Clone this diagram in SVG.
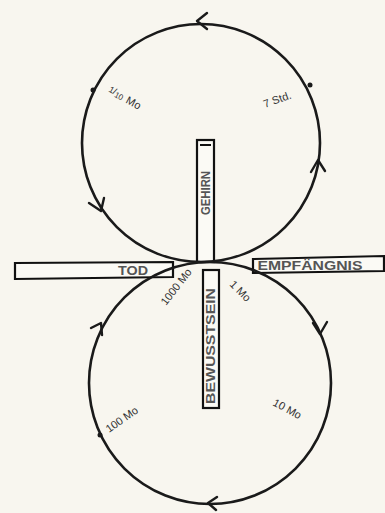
<svg xmlns="http://www.w3.org/2000/svg" width="385" height="513" viewBox="0 0 385 513">
<defs>
<style>
.c{fill:none;stroke:#1a1a1a;stroke-width:2.6}
.a{fill:none;stroke:#1a1a1a;stroke-width:2.4;stroke-linecap:round;stroke-linejoin:round}
.bar{fill:#fbfaf5;stroke:#111;stroke-width:2.2}
.bt{font-family:"Liberation Sans",Arial,sans-serif;font-size:12px;fill:#555;font-weight:bold}
.l{font-family:"Liberation Sans",Arial,sans-serif;font-size:11px;fill:#333}
.d{fill:#1a1a1a}
</style>
</defs>
<rect width="385" height="513" fill="#f8f6ef"/>
<g id="gehirn">
<rect class="bar" x="197" y="140" width="17" height="122"/>
<line x1="200" y1="145" x2="211" y2="145" stroke="#111" stroke-width="2"/>
<text class="bt" transform="translate(210,193) rotate(-90)" text-anchor="middle" textLength="44" lengthAdjust="spacingAndGlyphs">GEHIRN</text>
</g>
<g id="bewusstsein">
<rect class="bar" x="203" y="270" width="16" height="138"/>
<text class="bt" transform="translate(215,346) rotate(-90)" text-anchor="middle" textLength="116" lengthAdjust="spacingAndGlyphs">BEWUSSTSEIN</text>
</g>
<g id="tod">
<polygon class="bar" points="15,263 173,262 173,277 15,279"/>
<text class="bt" x="133" y="275" text-anchor="middle" textLength="30" lengthAdjust="spacingAndGlyphs">TOD</text>
</g>
<g id="empfaengnis">
<polygon class="bar" points="253,259 384,256 384,271 253,273"/>
<text class="bt" x="310" y="270" text-anchor="middle" textLength="105" lengthAdjust="spacingAndGlyphs">EMPFÄNGNIS</text>
</g>
<g id="connectors">
<circle class="c" cx="201" cy="143" r="119"/>
<circle class="c" cx="210" cy="383" r="121"/>
<path class="a" d="M207 13 L197 21 L207 29"/>
<path class="a" d="M89 203 L101 211 L104 198"/>
<path class="a" d="M311 172 L318 160 L325 171"/>
<path class="a" d="M91 328 L101 323 L102 335"/>
<path class="a" d="M313 323 L320 334 L327 322"/>
<path class="a" d="M217 497 L208 503 L216 510"/>
<circle class="d" cx="93" cy="90" r="2.5"/>
<circle class="d" cx="310" cy="85" r="2.5"/>
<circle class="d" cx="100" cy="435" r="2.5"/>
</g>
<g id="labels">
<text class="l" font-size="12" transform="translate(107,93) rotate(28)"><tspan font-size="9" dy="-2">1</tspan><tspan font-size="9" dy="0">/</tspan><tspan font-size="8" dy="2">10</tspan><tspan dx="4">Mo</tspan></text>
<text class="l" font-size="12" transform="translate(265,108) rotate(-20)">7 Std.</text>
<text class="l" transform="translate(166,306) rotate(-52)">1000 Mo</text>
<text class="l" transform="translate(229,285) rotate(45)">1 Mo</text>
<text class="l" font-size="12" transform="translate(109,433) rotate(-35)">100 Mo</text>
<text class="l" font-size="12" transform="translate(272,405) rotate(28)">10 Mo</text>
</g>
</svg>
